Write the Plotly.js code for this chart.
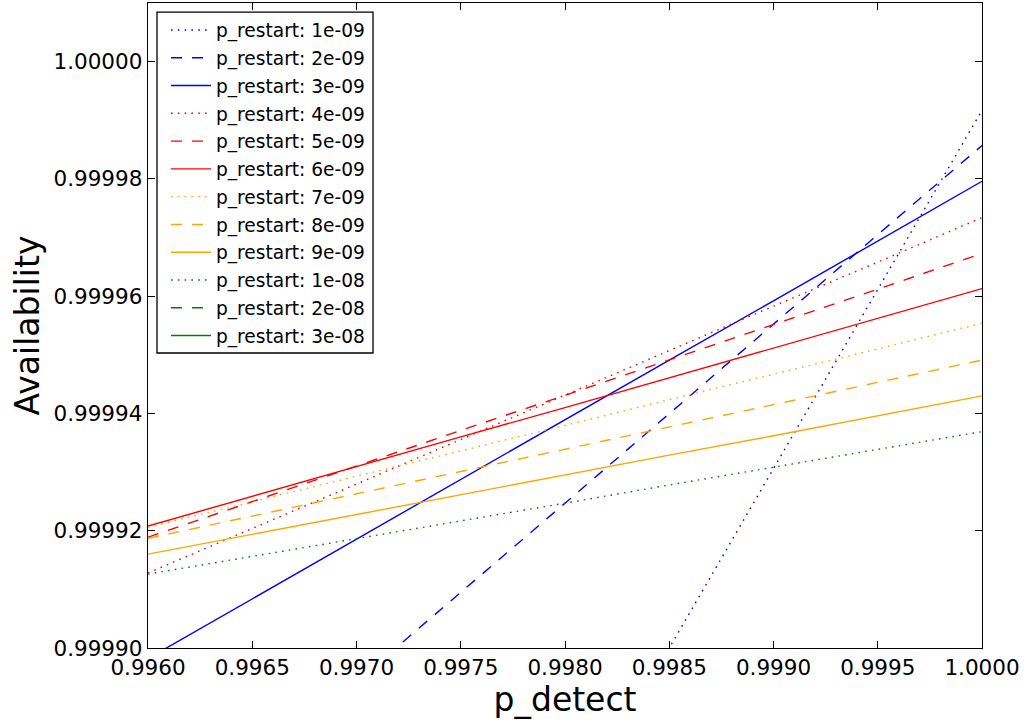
<!DOCTYPE html>
<html>
<head>
<meta charset="utf-8">
<script src="https://cdn.plot.ly/plotly-3.0.1.min.js"></script>
<style>html,body{margin:0;padding:0;background:#fff;}#chart{width:1027px;height:724px;}</style>
</head>
<body>
<div id="chart"></div>
<script>
// p_detect sample positions
const pDetect = [0.9960, 0.9965, 0.9970, 0.9975, 0.9980, 0.9985, 0.9990, 0.9995, 1.0000];

// series labels
const labels = [
  "p_restart: 1e-09", "p_restart: 2e-09", "p_restart: 3e-09",
  "p_restart: 4e-09", "p_restart: 5e-09", "p_restart: 6e-09",
  "p_restart: 7e-09", "p_restart: 8e-09", "p_restart: 9e-09",
  "p_restart: 1e-08", "p_restart: 2e-08", "p_restart: 3e-08"
];

// availability values (values below 0.9999 are off-chart estimates)
const avail_1e09 = [0.9997473, 0.9997778, 0.9998084, 0.9998389, 0.9998695, 0.9999000, 0.9999306, 0.9999611, 0.9999917];
const avail_2e09 = [0.9998637, 0.9998790, 0.9998942, 0.9999095, 0.9999247, 0.9999400, 0.9999552, 0.9999705, 0.9999857];
const avail_3e09 = [0.9998982, 0.9999084, 0.9999185, 0.9999287, 0.9999389, 0.9999491, 0.9999592, 0.9999694, 0.9999796];
const avail_4e09 = [0.9999128, 0.9999204, 0.9999279, 0.9999355, 0.9999431, 0.9999507, 0.9999583, 0.9999658, 0.9999734];
const avail_5e09 = [0.9999189, 0.9999250, 0.9999310, 0.9999371, 0.9999431, 0.9999491, 0.9999552, 0.9999612, 0.9999673];
const avail_6e09 = [0.9999208, 0.9999259, 0.9999309, 0.9999360, 0.9999410, 0.9999461, 0.9999512, 0.9999562, 0.9999613];
const avail_7e09 = [0.9999206, 0.9999250, 0.9999293, 0.9999336, 0.9999380, 0.9999423, 0.9999467, 0.9999510, 0.9999554];
const avail_8e09 = [0.9999187, 0.9999225, 0.9999263, 0.9999301, 0.9999339, 0.9999377, 0.9999415, 0.9999453, 0.9999491];
const avail_9e09 = [0.9999160, 0.9999194, 0.9999227, 0.9999261, 0.9999295, 0.9999329, 0.9999362, 0.9999396, 0.9999430];
const avail_1e08 = [0.9999126, 0.9999156, 0.9999187, 0.9999217, 0.9999247, 0.9999278, 0.9999308, 0.9999338, 0.9999369];
const avail_2e08 = [0.9998850, 0.9998860, 0.9998870, 0.9998880, 0.9998890, 0.9998900, 0.9998910, 0.9998920, 0.9998930];
const avail_3e08 = [0.9998800, 0.9998810, 0.9998820, 0.9998830, 0.9998840, 0.9998850, 0.9998860, 0.9998870, 0.9998880];

const series = [avail_1e09, avail_2e09, avail_3e09, avail_4e09, avail_5e09, avail_6e09,
                avail_7e09, avail_8e09, avail_9e09, avail_1e08, avail_2e08, avail_3e08];

const colors = ["#0000ff", "#ff0000", "#ffa500", "#008000"];
const dashes = ["1.6px,5.2px", "11px,10px", "solid"];

const traces = series.map((ys, i) => ({
  x: pDetect,
  y: ys,
  type: "scatter",
  mode: "lines",
  name: labels[i],
  legendgroup: "g" + i,
  line: { color: colors[Math.floor(i / 3)], width: 1.4, dash: dashes[i % 3] }
}));

const axisFont = { family: "DejaVu Sans", size: 21.5, color: "#000" };

const layout = {
  width: 1027,
  height: 724,
  margin: { l: 148, r: 45, t: 3, b: 76 },
  paper_bgcolor: "#fff",
  plot_bgcolor: "#fff",
  showlegend: true,
  font: { family: "DejaVu Sans", color: "#000" },
  xaxis: {
    range: [0.996, 1.0],
    dtick: 0.0005,
    tick0: 0.996,
    tickformat: ".4f",
    ticks: "inside",
    ticklen: 7,
    tickwidth: 1,
    tickcolor: "#000",
    showline: true,
    linecolor: "#000",
    linewidth: 1.3,
    mirror: "ticks",
    showgrid: false,
    zeroline: false,
    tickfont: axisFont,
    title: { text: "p_detect", font: { family: "DejaVu Sans", size: 33, color: "#000" }, standoff: 8 }
  },
  yaxis: {
    range: [0.9999, 1.00001],
    dtick: 0.00002,
    tick0: 0.9999,
    tickformat: ".5f",
    ticks: "inside",
    ticklen: 7,
    tickwidth: 1,
    tickcolor: "#000",
    showline: true,
    linecolor: "#000",
    linewidth: 1.3,
    mirror: "ticks",
    showgrid: false,
    zeroline: false,
    tickfont: axisFont,
    title: { text: "Availability", font: { family: "DejaVu Sans", size: 33, color: "#000" }, standoff: 4 }
  },
  shapes: [{
    type: "rect", xref: "paper", yref: "paper",
    x0: 0.0108, x1: 0.2698, y0: 0.4574, y1: 0.986,
    line: { color: "#000", width: 1.3 }, fillcolor: "rgba(0,0,0,0)", layer: "above"
  }],
  legend: {
    x: 0.0216,
    y: 0.987,
    xanchor: "left",
    yanchor: "top",
    bgcolor: "rgba(0,0,0,0)",
    borderwidth: 0,
    itemwidth: 40,
    traceorder: "grouped",
    tracegroupgap: 0.6,
    font: { family: "DejaVu Sans", size: 18.6, color: "#000" }
  }
};

Plotly.newPlot("chart", traces, layout, { displayModeBar: false, staticPlot: true });
</script>
</body>
</html>
